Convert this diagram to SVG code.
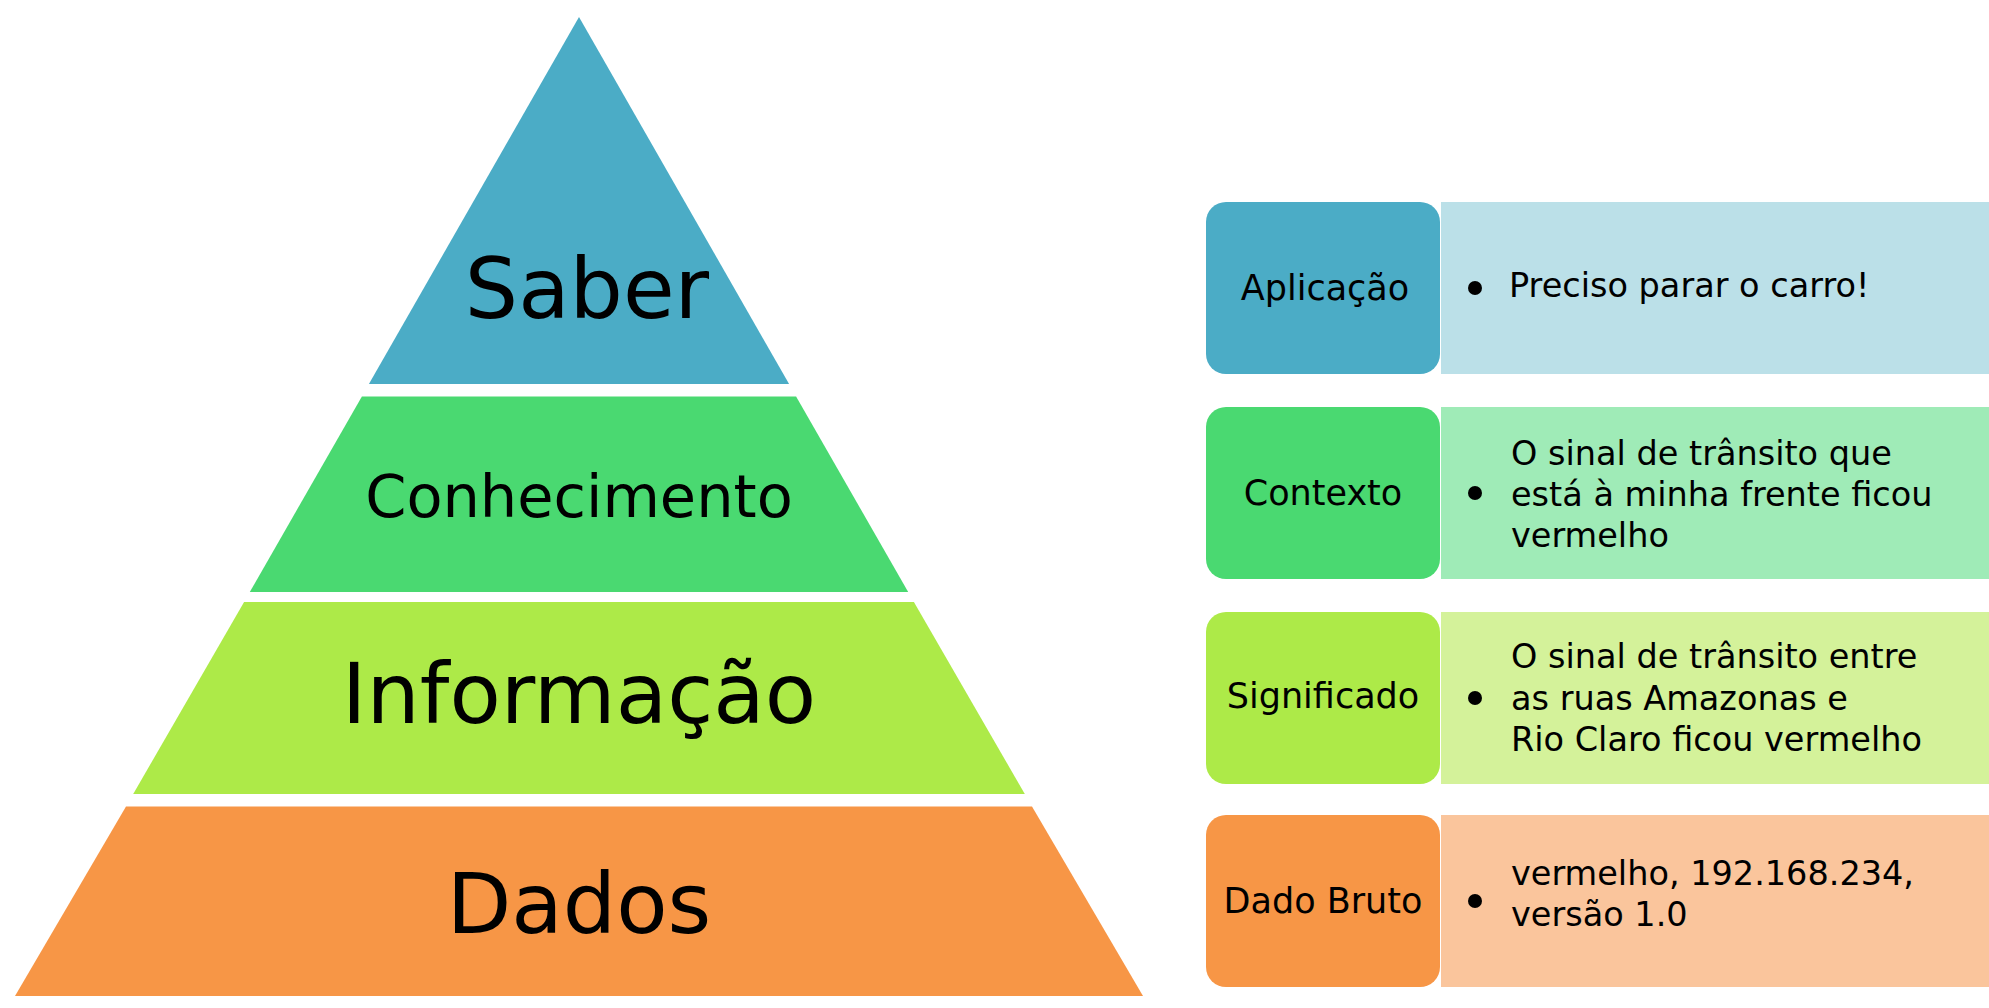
<svg xmlns="http://www.w3.org/2000/svg" width="1989" height="1008" viewBox="0 0 1989 1008">
<style>
text{font-family:"DejaVu Sans","Liberation Sans",sans-serif;fill:#000}
.big{font-size:84px;text-anchor:middle}
.mid{font-size:59px;text-anchor:middle}
.lab{font-size:35px;text-anchor:middle}
.desc{font-size:33.5px}
</style>
<rect width="1989" height="1008" fill="#ffffff"/>
<g id="pyr-saber"><polygon points="579,17 789.1,384 368.9,384" fill="#4BACC6"/><text class="big" x="587" y="318">Saber</text></g>
<g id="pyr-conhecimento"><polygon points="361.9,396.5 796.1,396.5 908.2,592 249.8,592" fill="#4AD971"/><text class="mid" x="579" y="517">Conhecimento</text></g>
<g id="pyr-informacao"><polygon points="244.1,602 913.9,602 1024.8,794 133.2,794" fill="#ADEA48"/><text class="big" x="579" y="723">Informação</text></g>
<g id="pyr-dados"><polygon points="126,806.5 1032,806.5 1143,996 15,996" fill="#F79646"/><text class="big" x="579" y="933">Dados</text></g>

<g id="row-aplicacao">
<rect x="1441" y="202" width="548" height="172" fill="#BBE0E8"/>
<rect x="1206" y="202" width="234" height="172" rx="20" fill="#4BACC6"/>
<text class="lab" x="1325" y="300">Aplicação</text>
<circle cx="1475" cy="288" r="7"/>
<text class="desc" x="1509" y="297">Preciso parar o carro!</text>
</g>
<g id="row-contexto">
<rect x="1441" y="407" width="548" height="172" fill="#9FEBB7"/>
<rect x="1206" y="407" width="234" height="172" rx="20" fill="#4AD971"/>
<text class="lab" x="1323" y="505">Contexto</text>
<circle cx="1475" cy="493" r="7"/>
<text class="desc" x="1511" y="465">O sinal de trânsito que</text>
<text class="desc" x="1511" y="506">está à minha frente ficou</text>
<text class="desc" x="1511" y="547">vermelho</text>
</g>
<g id="row-significado">
<rect x="1441" y="612" width="548" height="172" fill="#D4F29A"/>
<rect x="1206" y="612" width="234" height="172" rx="20" fill="#ADEA48"/>
<text class="lab" x="1323" y="708">Significado</text>
<circle cx="1475" cy="698" r="7"/>
<text class="desc" x="1511" y="668">O sinal de trânsito entre</text>
<text class="desc" x="1511" y="710">as ruas Amazonas e</text>
<text class="desc" x="1511" y="751">Rio Claro ficou vermelho</text>
</g>
<g id="row-dado-bruto">
<rect x="1441" y="815" width="548" height="172" fill="#FAC59C"/>
<rect x="1206" y="815" width="234" height="172" rx="20" fill="#F79646"/>
<text class="lab" x="1323" y="913">Dado Bruto</text>
<circle cx="1475" cy="901" r="7"/>
<text class="desc" x="1511" y="885">vermelho, 192.168.234,</text>
<text class="desc" x="1511" y="926">versão 1.0</text>
</g>
<g id="connectors"></g>
</svg>
